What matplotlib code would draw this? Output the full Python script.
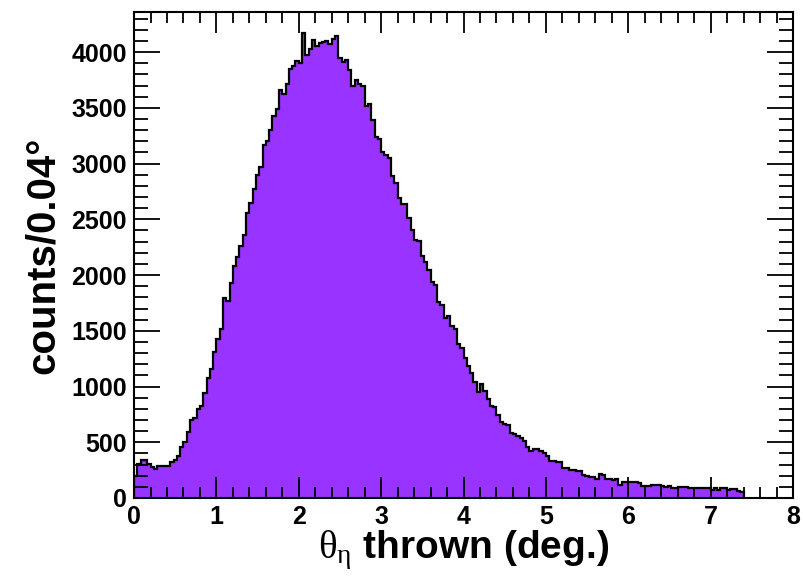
import numpy as np
import matplotlib
matplotlib.use("Agg")
import matplotlib.pyplot as plt
from matplotlib.ticker import MultipleLocator

# Histogram contents, bin width 0.04 deg starting at 0
bin_width = 0.04
counts = [
    200, 304, 340, 345, 304, 277, 260, 283, 283, 283,
    283, 319, 343, 379, 462, 498, 588, 700, 722, 796,
    826, 945, 1080, 1160, 1309, 1428, 1512, 1795, 1765, 1929,
    2080, 2165, 2257, 2361, 2555, 2650, 2770, 2898, 2972, 3163,
    3205, 3300, 3426, 3494, 3658, 3622, 3718, 3852, 3873, 3920,
    3903, 4171, 3971, 4031, 4112, 4052, 4080, 4092, 4102, 4076,
    4121, 4145, 3950, 3912, 3933, 3837, 3694, 3748, 3718, 3700,
    3515, 3533, 3390, 3241, 3217, 3106, 3077, 3050, 2889, 2824,
    2689, 2639, 2636, 2511, 2400, 2317, 2302, 2168, 2120, 2048,
    1935, 1914, 1756, 1735, 1616, 1631, 1541, 1517, 1378, 1348,
    1258, 1184, 1124, 1040, 951, 1019, 960, 891, 826, 820,
    742, 683, 662, 656, 587, 572, 552, 542, 513, 462,
    423, 444, 440, 423, 408, 373, 334, 334, 325, 325,
    265, 265, 250, 250, 244, 244, 206, 194, 185, 185,
    170, 215, 206, 170, 170, 164, 170, 116, 140, 140,
    140, 140, 140, 134, 104, 110, 110, 116, 116, 116,
    110, 95, 104, 92, 92, 101, 101, 101, 89, 89,
    86, 86, 86, 86, 86, 74, 92, 74, 92, 92,
    74, 80, 80, 65, 50,
]
x_label = r"$\mathrm{\theta_{\eta}}$ thrown (deg.)"
y_label = "counts/0.04°"

counts = np.array(counts, dtype=float)
edges = np.arange(len(counts) + 1) * bin_width

plt.rcParams['font.family'] = ['Liberation Sans', 'DejaVu Sans']
plt.rcParams['font.weight'] = 'bold'
# greek symbols in a thin serif face, like ROOT's symbol font
plt.rcParams['mathtext.fontset'] = 'custom'
plt.rcParams['mathtext.rm'] = 'Liberation Serif:normal'
plt.rcParams['mathtext.it'] = 'Liberation Serif:normal'
plt.rcParams['mathtext.bf'] = 'Liberation Sans:bold'

fig = plt.figure(figsize=(8.04, 5.83), dpi=100)
ax = fig.add_axes([0.1667, 0.1458, 0.8196, 0.8336])

ax.stairs(counts, edges, fill=True, color='#9933ff', baseline=0)
ax.stairs(counts, edges, fill=False, color='black', linewidth=1.6, baseline=0)

ax.set_xlim(0, 8)
ax.set_ylim(0, 4360)
ax.xaxis.set_major_locator(MultipleLocator(1))
ax.xaxis.set_minor_locator(MultipleLocator(0.2))
ax.yaxis.set_major_locator(MultipleLocator(500))
ax.yaxis.set_minor_locator(MultipleLocator(100))

ax.tick_params(which='both', direction='in', top=True, right=True, width=1.3, labelsize=18)
ax.tick_params(axis='y', which='major', length=19)
ax.tick_params(axis='y', which='minor', length=10)
ax.tick_params(axis='x', which='major', length=15)
ax.tick_params(axis='x', which='minor', length=8)
ax.tick_params(axis='x', pad=5)
ax.tick_params(axis='y', pad=5)
for lab in ax.get_xticklabels() + ax.get_yticklabels():
    lab.set_fontweight('bold')
for sp in ax.spines.values():
    sp.set_linewidth(1.5)

ax.set_xlabel(x_label, fontsize=28, fontweight='bold', labelpad=0)
ax.set_ylabel(y_label, fontsize=29, fontweight='bold', labelpad=7)

fig.savefig('out.png', dpi=100)
